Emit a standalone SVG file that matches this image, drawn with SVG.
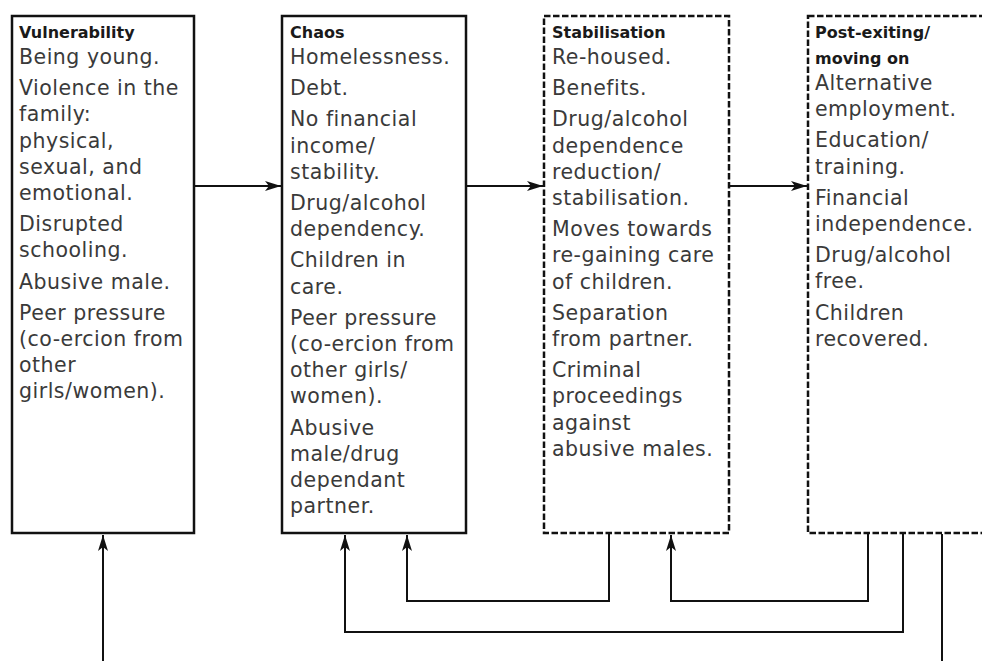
<svg xmlns="http://www.w3.org/2000/svg" width="982" height="661" viewBox="0 0 982 661">
<style>
  .box { fill: #ffffff; stroke: #111111; stroke-width: 2.5; }
  .dash { stroke-dasharray: 6.5 2.5; }
  .title { font-family: "DejaVu Sans", "Liberation Sans", sans-serif; font-weight: bold; font-size: 16px; fill: #1a1a1a; }
  .t { font-family: "DejaVu Sans", "Liberation Sans", sans-serif; font-size: 20.5px; letter-spacing: 0.5px; fill: #3a3a3a; }
  .line { fill: none; stroke: #111111; stroke-width: 2; }
</style>
<defs>
  <marker id="ah" viewBox="0 0 16 10" refX="16" refY="5" markerWidth="16" markerHeight="10" markerUnits="userSpaceOnUse" orient="auto">
    <path d="M0,0 L16,5 L0,10 L4,5 z" fill="#111111"/>
  </marker>
</defs>
<rect width="982" height="661" fill="#ffffff"/>

<g id="vulnerability">
  <rect class="box" x="12" y="16" width="182" height="517"/>
  <text class="title" x="19" y="38">Vulnerability</text>
  <text class="t" x="19" y="64">Being young.</text>
  <text class="t" x="19" y="95.2">Violence in the</text>
  <text class="t" x="19" y="121.4">family:</text>
  <text class="t" x="19" y="147.6">physical,</text>
  <text class="t" x="19" y="173.8">sexual, and</text>
  <text class="t" x="19" y="200">emotional.</text>
  <text class="t" x="19" y="231.2">Disrupted</text>
  <text class="t" x="19" y="257.4">schooling.</text>
  <text class="t" x="19" y="288.6">Abusive male.</text>
  <text class="t" x="19" y="319.8">Peer pressure</text>
  <text class="t" x="19" y="346">(co-ercion from</text>
  <text class="t" x="19" y="372.2">other</text>
  <text class="t" x="19" y="398.4">girls/women).</text>
</g>

<g id="chaos">
  <rect class="box" x="282" y="16" width="184" height="517"/>
  <text class="title" x="290" y="38">Chaos</text>
  <text class="t" x="290" y="64">Homelessness.</text>
  <text class="t" x="290" y="95.2">Debt.</text>
  <text class="t" x="290" y="126.4">No financial</text>
  <text class="t" x="290" y="152.6">income/</text>
  <text class="t" x="290" y="178.8">stability.</text>
  <text class="t" x="290" y="210">Drug/alcohol</text>
  <text class="t" x="290" y="236.2">dependency.</text>
  <text class="t" x="290" y="267.4">Children in</text>
  <text class="t" x="290" y="293.6">care.</text>
  <text class="t" x="290" y="324.8">Peer pressure</text>
  <text class="t" x="290" y="351">(co-ercion from</text>
  <text class="t" x="290" y="377.2">other girls/</text>
  <text class="t" x="290" y="403.4">women).</text>
  <text class="t" x="290" y="434.6">Abusive</text>
  <text class="t" x="290" y="460.8">male/drug</text>
  <text class="t" x="290" y="487">dependant</text>
  <text class="t" x="290" y="513.2">partner.</text>
</g>

<g id="stabilisation">
  <rect class="box dash" x="544" y="16" width="185" height="517"/>
  <text class="title" x="552" y="38">Stabilisation</text>
  <text class="t" x="552" y="64">Re-housed.</text>
  <text class="t" x="552" y="95.2">Benefits.</text>
  <text class="t" x="552" y="126.4">Drug/alcohol</text>
  <text class="t" x="552" y="152.6">dependence</text>
  <text class="t" x="552" y="178.8">reduction/</text>
  <text class="t" x="552" y="205">stabilisation.</text>
  <text class="t" x="552" y="236.2">Moves towards</text>
  <text class="t" x="552" y="262.4">re-gaining care</text>
  <text class="t" x="552" y="288.6">of children.</text>
  <text class="t" x="552" y="319.8">Separation</text>
  <text class="t" x="552" y="346">from partner.</text>
  <text class="t" x="552" y="377.2">Criminal</text>
  <text class="t" x="552" y="403.4">proceedings</text>
  <text class="t" x="552" y="429.6">against</text>
  <text class="t" x="552" y="455.8">abusive males.</text>
</g>

<g id="post-exiting">
  <rect class="box dash" x="808" y="16" width="200" height="517"/>
  <text class="title" x="815" y="38">Post-exiting/</text>
  <text class="title" x="815" y="64">moving on</text>
  <text class="t" x="815" y="90">Alternative</text>
  <text class="t" x="815" y="116.2">employment.</text>
  <text class="t" x="815" y="147.4">Education/</text>
  <text class="t" x="815" y="173.6">training.</text>
  <text class="t" x="815" y="204.8">Financial</text>
  <text class="t" x="815" y="231">independence.</text>
  <text class="t" x="815" y="262.2">Drug/alcohol</text>
  <text class="t" x="815" y="288.4">free.</text>
  <text class="t" x="815" y="319.6">Children</text>
  <text class="t" x="815" y="345.8">recovered.</text>
</g>

<g id="connectors">
  <line class="line" x1="194" y1="186" x2="281" y2="186" marker-end="url(#ah)"/>
  <line class="line" x1="466" y1="186" x2="543" y2="186" marker-end="url(#ah)"/>
  <line class="line" x1="729" y1="186" x2="807" y2="186" marker-end="url(#ah)"/>
  <path class="line" d="M609,534 V601 H407 V535" marker-end="url(#ah)"/>
  <path class="line" d="M868,534 V601 H671 V535" marker-end="url(#ah)"/>
  <path class="line" d="M903,534 V632 H345 V535" marker-end="url(#ah)"/>
  <path class="line" d="M942,534 V672 H103 V535" marker-end="url(#ah)"/>
</g>
</svg>
